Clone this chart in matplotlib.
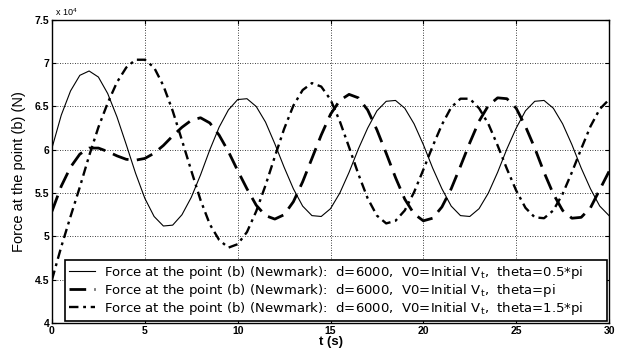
import matplotlib.pyplot as plt
import numpy as np
from matplotlib.ticker import FuncFormatter

# time samples (s)
t = np.linspace(0, 30, 61)

# force at point (b), in units of 1e4 N, every 0.5 s
force_05pi = [6.02, 6.40, 6.68, 6.86, 6.91, 6.84, 6.65, 6.38, 6.06, 5.73,
              5.44, 5.23, 5.12, 5.13, 5.25, 5.45, 5.71, 6.00, 6.26, 6.46,
              6.58, 6.59, 6.50, 6.32, 6.07, 5.80, 5.55, 5.35, 5.24, 5.23,
              5.32, 5.50, 5.74, 6.01, 6.25, 6.45, 6.56, 6.57, 6.48, 6.30,
              6.06, 5.79, 5.55, 5.35, 5.24, 5.23, 5.32, 5.50, 5.74, 6.01,
              6.25, 6.45, 6.56, 6.57, 6.48, 6.30, 6.06, 5.79, 5.55, 5.35,
              5.24]
force_pi = [5.29, 5.58, 5.80, 5.95, 6.02, 6.02, 5.98, 5.93, 5.89, 5.88,
            5.90, 5.96, 6.05, 6.16, 6.26, 6.34, 6.37, 6.31, 6.17, 5.98,
            5.76, 5.55, 5.36, 5.24, 5.20, 5.25, 5.40, 5.63, 5.90, 6.17,
            6.41, 6.57, 6.64, 6.60, 6.46, 6.23, 5.96, 5.68, 5.43, 5.26,
            5.18, 5.21, 5.34, 5.55, 5.81, 6.08, 6.33, 6.51, 6.60, 6.59,
            6.48, 6.27, 6.02, 5.74, 5.49, 5.30, 5.21, 5.22, 5.33, 5.54,
            5.75]
force_15pi = [4.50, 4.88, 5.23, 5.57, 5.93, 6.26, 6.54, 6.78, 6.95, 7.04,
              7.04, 6.95, 6.74, 6.45, 6.11, 5.76, 5.42, 5.14, 4.96, 4.87,
              4.91, 5.05, 5.29, 5.59, 5.92, 6.24, 6.51, 6.69, 6.77, 6.73,
              6.58, 6.33, 6.03, 5.72, 5.44, 5.24, 5.15, 5.18, 5.30, 5.51,
              5.77, 6.04, 6.29, 6.49, 6.59, 6.59, 6.48, 6.30, 6.05, 5.78,
              5.53, 5.33, 5.22, 5.21, 5.30, 5.49, 5.74, 6.01, 6.27, 6.47,
              6.58]

labels = [
    r"Force at the point (b) (Newmark):  d=6000,  V0=Initial V$_\mathregular{t}$,  theta=0.5*pi",
    r"Force at the point (b) (Newmark):  d=6000,  V0=Initial V$_\mathregular{t}$,  theta=pi",
    r"Force at the point (b) (Newmark):  d=6000,  V0=Initial V$_\mathregular{t}$,  theta=1.5*pi",
]

plt.rcParams['font.family'] = ['Liberation Sans', 'DejaVu Sans']

fig = plt.figure(figsize=(6.24, 3.49), dpi=100)
fig.set_facecolor("white")
ax = fig.add_axes([0.0833, 0.0745, 0.8927, 0.8685])

ax.plot(t, np.array(force_05pi) * 1e4, color="black", lw=0.8, label=labels[0], zorder=3)
ax.plot(t, np.array(force_pi) * 1e4, color="black", lw=2.0, dashes=(6, 3), label=labels[1], zorder=3)
ax.plot(t, np.array(force_15pi) * 1e4, color="black", lw=1.7, dashes=(4, 2, 1.2, 2), label=labels[2], zorder=3)

ax.set_xlim(0, 30)
ax.set_ylim(4e4, 7.5e4)
ax.set_xticks(np.arange(0, 31, 5))
ax.set_yticks(np.arange(4e4, 7.51e4, 0.5e4))
ax.yaxis.set_major_formatter(FuncFormatter(lambda v, p: "%g" % (v / 1e4)))

ax.grid(True, color="black", linestyle=(0, (1, 2)), linewidth=0.6, zorder=1)
ax.tick_params(direction="in", top=True, right=True, length=3, width=0.8,
               labelsize=7.5, pad=2)
for lab in ax.get_xticklabels() + ax.get_yticklabels():
    lab.set_fontweight("bold")
for s in ax.spines.values():
    s.set_linewidth(1.0)

ax.text(0.005, 1.005, r"x 10$^\mathregular{4}$", transform=ax.transAxes,
        fontsize=6.5, ha="left", va="bottom")

ax.set_ylabel("Force at the point (b) (N)", fontsize=10.5, labelpad=6)
ax.set_xlabel("t (s)", fontsize=9.5, fontweight="bold", labelpad=0)

leg = ax.legend(loc="lower left", bbox_to_anchor=(0.023, 0.008, 0.973, 0.2),
                mode="expand", borderaxespad=0, handlelength=2.0, handletextpad=0.7,
                labelspacing=0.08, borderpad=0.3, fancybox=False, framealpha=1,
                edgecolor="black", prop={"family": "DejaVu Sans", "size": 9.5})
leg.get_frame().set_linewidth(1.2)
leg.set_zorder(5)

plt.savefig("out.png", dpi=100, facecolor="white")
